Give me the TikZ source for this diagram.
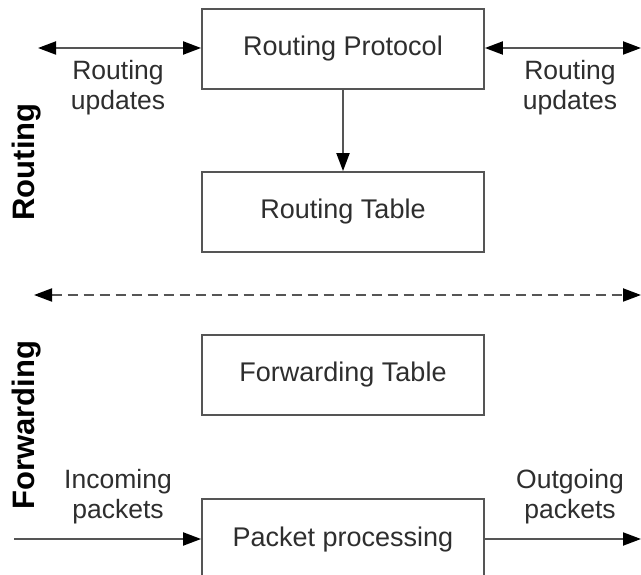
\documentclass[tikz,border=0pt]{standalone}
\usepackage{fontspec}
\setmainfont{Liberation Sans}
\usetikzlibrary{arrows.meta}
\definecolor{linegray}{HTML}{555555}
\definecolor{textgray}{HTML}{2E2E2E}
\tikzset{
  block/.style={draw=linegray, line width=1.8pt, minimum width=282pt, minimum height=80pt,
    inner sep=0pt, font=\fontsize{27}{32}\selectfont, text=textgray},
  lbl/.style={align=center, font=\fontsize{26.5}{30}\selectfont, text=textgray, inner sep=0pt},
  side/.style={rotate=90, font=\fontsize{31}{36}\selectfont\bfseries, text=black, inner sep=0pt},
  conn/.style={draw=linegray, line width=2pt},
  tip/.style={-{Triangle[length=18pt,width=13pt,fill=black,color=black]}},
  bitip/.style={{Triangle[length=18pt,width=13pt,fill=black,color=black]}-{Triangle[length=18pt,width=13pt,fill=black,color=black]}}
}
\begin{document}
\begin{tikzpicture}[x=1pt, y=-1pt]
  \clip (0,0) rectangle (641,575);
  \fill[white] (0,0) rectangle (641,575);

  % boxes
  \node[block] (rp) at (343,49) {Routing Protocol};
  \node[block] (rt) at (343,212) {Routing Table};
  \node[block] (ft) at (343,375) {Forwarding Table};
  \node[block, minimum height=82pt] (pp) at (343,540) {Packet processing};

  % free ends of the side connectors
  \coordinate (ruL) at (38,48);
  \coordinate (ruR) at (641,48);
  \coordinate (dashL) at (34,295);
  \coordinate (dashR) at (641,295);
  \coordinate (inL) at (14,539);
  \coordinate (outR) at (641,539);

  % routing part
  \draw[conn, tip] (rp) -- (rt);
  \draw[conn, bitip] (ruL) -- (rp.west |- ruL);
  \draw[conn, bitip] (rp.east |- ruR) -- (ruR);
  \node[lbl] (ul) at (118,88) {Routing\\updates};
  \node[lbl] (ur) at (570,88) {Routing\\updates};

  % separation between the two planes
  \draw[conn, bitip, dash pattern=on 10pt off 6pt] (dashL) -- (dashR);

  % forwarding part
  \draw[conn, tip] (inL) -- (pp.west |- inL);
  \draw[conn, tip] (pp.east |- outR) -- (outR);
  \node[lbl] (inl) at (118,497) {Incoming\\packets};
  \node[lbl] (outl) at (570,497) {Outgoing\\packets};

  % plane titles
  \node[side] (routing) at (27,162) {Routing};
  \node[side] (fwd) at (27,425) {Forwarding};
\end{tikzpicture}
\end{document}
